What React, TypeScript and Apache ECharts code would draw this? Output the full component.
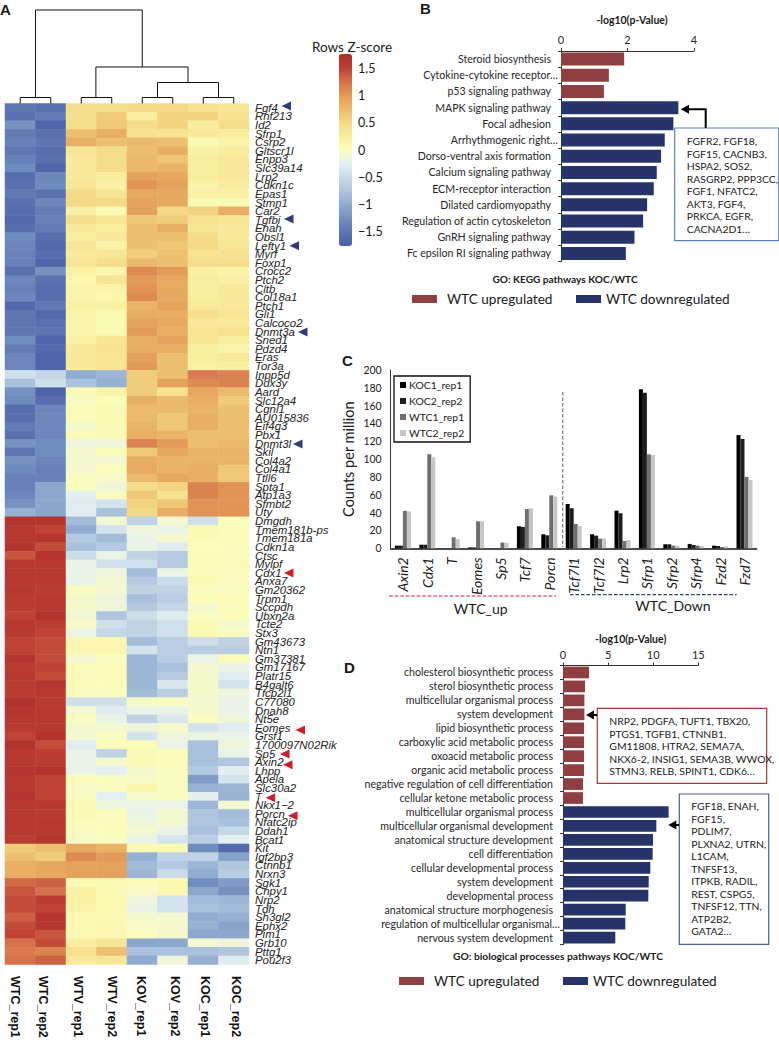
import React, { useEffect, useRef } from "react";
import * as echarts from "echarts";

const genes = ["Fgf4","Rnf213","Id2","Sfrp1","Csrp2","Gltscr1l","Enpp3","Slc39a14","Lrp2","Cdkn1c","Epas1","Stmn1","Car2","Tgfbi","Enah","Obsl1","Lefty1","Myrf","Foxp1","Crocc2","Ptch2","Cltb","Col18a1","Ptch1","Gli1","Calcoco2","Dnmt3a","Sned1","Pdzd4","Eras","Tor3a","Inpp5d","Ddx3y","Aard","Slc12a4","Cgnl1","AU015836","Eif4g3","Pbx1","Dnmt3l","Skil","Col4a2","Col4a1","Ttll6","Spta1","Atp1a3","Sfmbt2","Uty","Dmgdh","Tmem181b-ps","Tmem181a","Cdkn1a","Ctsc","Mylpf","Cdx1","Anxa7","Gm20362","Trpm1","Sccpdh","Ubxn2a","Tcte2","Stx3","Gm43673","Ntn1","Gm37381","Gm17167","Platr15","B4galt6","Tfcp2l1","C77080","Dnah8","Nt5e","Eomes","Grsf1","1700097N02Rik","Sp5","Axin2","Lhpp","Apela","Slc30a2","T","Nkx1−2","Porcn","Nfatc2ip","Ddah1","Bcat1","Kit","Igf2bp3","Ctnnb1","Nrxn3","Sgk1","Cnpy1","Nrp2","Tdh","Sh3gl2","Ephx2","Pim1","Grb10","Pttg1","Pou2f3"];

const samples = ["WTC_rep1","WTC_rep2","WTV_rep1","WTV_rep2","KOV_rep1","KOV_rep2","KOC_rep1","KOC_rep2"];

const zScores = [
[-1.5,-1.55,.45,.45,.5,.5,.4,.35],
[-1.55,-1.45,.45,.6,.25,.55,.55,.4],
[-1.25,-1.7,.45,.65,.45,.55,.25,.45],
[-1.45,-1.55,.7,.85,.4,.4,.3,.25],
[-1.4,-1.5,.85,.7,.75,.7,.05,.15],
[-1.5,-1.6,.35,.45,.7,.85,.2,.25],
[-1.4,-1.55,.3,.45,.75,.65,.25,.3],
[-1.3,-1.7,.3,.45,.75,.8,.25,.3],
[-1.6,-1.35,.3,.25,.95,.9,.25,.3],
[-1.55,-1.3,.35,.2,1.05,.95,.15,.25],
[-1.45,-1.55,.5,.35,.9,.9,.2,.2],
[-1.55,-1.35,.5,.5,.95,.9,.05,.05],
[-1.6,-1.45,.2,.05,.95,.5,.55,.85],
[-1.65,-1.4,.45,.35,.65,.6,.4,.35],
[-1.6,-1.45,.3,.25,.7,.85,.35,.3],
[-1.3,-1.6,.25,.3,.7,.7,.45,.3],
[-1.35,-1.65,.35,.15,.7,.65,.5,.35],
[-1.4,-1.6,.3,.35,.6,.7,.4,.4],
[-1.4,-1.7,.35,.45,.75,.7,.45,.45],
[-1.55,-1.25,.2,.1,1.1,1,.2,.15],
[-1.35,-1.55,.1,.35,1,.9,.25,.2],
[-1.4,-1.6,.15,.15,1.05,.9,.25,.3],
[-1.35,-1.6,.15,.1,1.1,.9,.25,.3],
[-1.65,-1.45,.2,.2,.8,.95,.3,.3],
[-1.5,-1.65,.15,.05,.85,.85,.45,.35],
[-1.5,-1.55,.15,.05,.95,.9,.3,.3],
[-1.5,-1.5,.15,.05,1,.85,.35,.4],
[-1.3,-1.7,.2,.35,.85,.95,.35,.25],
[-1.45,-1.65,.3,.4,.85,.85,.25,.15],
[-1.35,-1.7,.3,.35,.95,.7,.25,.3],
[-1.35,-1.7,.3,.35,1,.7,.2,.2],
[-.45,-.55,-1,-.9,.6,.7,1.2,1.15],
[-.8,-.45,-.8,-.95,.6,.95,1.1,1.15],
[-1.25,-1.7,.05,.15,.6,.4,.9,.75],
[-1.3,-1.6,-.05,.02,.85,.75,.85,.6],
[-1.6,-1.35,.02,.05,.75,.75,.8,.7],
[-1.6,-1.35,.02,.05,.75,.65,.85,.7],
[-1.45,-1.35,-.08,.05,.8,.65,.85,.7],
[-1.55,-1.35,.02,.05,.85,.8,.7,.7],
[-1.25,-1.3,-.15,-.15,1.15,1,.7,.75],
[-1.5,-1.3,-.1,.02,.65,.9,.8,.8],
[-1.25,-1.35,-.1,-.1,.85,.8,.8,.8],
[-1.3,-1.4,-.1,0,.9,.8,.85,.65],
[-1.4,-1.4,-.02,-.05,.75,.9,.85,.65],
[-1.4,-1.05,-.02,-.15,.45,.55,1.15,1.05],
[-1.35,-1.05,-.25,-.02,.65,.4,1.15,1.05],
[-1.25,-1.05,-.3,-.4,.55,.65,1.05,1.05],
[-.95,-1.05,-.3,-.8,.5,.85,1.05,1.05],
[1.65,1.65,-.85,-.1,-.6,-.1,-.45,0],
[1.6,1.5,-1,-.4,-.15,-.2,.05,.03],
[1.6,1.65,-.7,-.85,-.2,-.1,.05,.03],
[1.65,1.45,-.8,-.7,-.2,-.3,0,.02],
[1.4,1.65,-.5,-.2,-.6,-.7,.02,.03],
[1.6,1.6,-.2,-.45,-.45,-.7,.03,.03],
[1.6,1.6,-.2,-.15,-.85,-.2,.03,.03],
[1.6,1.6,-.2,-.1,-.7,-.5,.05,-.02],
[1.6,1.55,-.03,-.1,-.6,-.6,-.02,-.02],
[1.55,1.6,-.08,-.15,-.8,-.65,.03,.02],
[1.55,1.6,-.08,-.15,-.7,-.55,-.08,.02],
[1.5,1.7,-.12,-.75,-.45,-.3,-.03,.02],
[1.6,1.55,-.05,-.45,-.6,-.45,.05,-.08],
[1.6,1.5,-.2,-.55,-.6,-.45,.05,-.03],
[1.5,1.45,.1,.1,-.85,-.65,-.45,-.6],
[1.5,1.45,.1,.12,-.4,-.65,-.65,-.65],
[1.65,1.45,-.1,-.02,-.9,-.65,-.2,.03],
[1.55,1.5,.03,.03,-.9,-.8,-.1,-.2],
[1.6,1.45,.03,.03,-.9,-.7,-.08,-.3],
[1.55,1.65,.03,.02,-.9,-.35,-.08,-.4],
[1.55,1.6,-.02,-.02,-.85,-.65,-.08,-.15],
[1.7,1.55,-.45,-.45,-.05,-.02,-.1,-.2],
[1.65,1.6,-.1,-.3,-.2,-.2,-.08,-.2],
[1.6,1.6,-.02,-.2,-.6,-.35,-.02,-.15],
[1.6,1.6,-.1,-.1,-.15,-.08,-.4,-.3],
[1.5,1.7,-.1,-.02,-.4,-.15,-.2,-.2],
[1.7,1.45,-.3,.02,.03,-.2,-.8,-.15],
[1.6,1.55,-.2,-.6,.05,.03,-.8,-.2],
[1.6,1.55,-.2,-.08,.05,.03,-.8,-.75],
[1.65,1.7,-.2,-.25,-.08,-.02,-.7,-.25],
[1.6,1.5,.03,-.02,-.05,-.02,-1.15,-.4],
[1.6,1.5,-.05,-.02,.12,-.03,-.95,-.9],
[1.65,1.5,-.02,-.25,-.06,-.03,-.25,-.95],
[1.6,1.6,.05,-.15,-.2,-.2,-.9,-.1],
[1.6,1.55,.05,.03,-.2,-.1,-.75,-.85],
[1.6,1.6,.01,.03,-.15,-.1,-.75,-.8],
[1.6,1.6,-.02,.02,-.1,-.2,-.8,-.55],
[1.55,1.65,-.05,-.02,-.2,-.4,-.65,-.25],
[.6,.7,.9,.8,.05,.05,-1.3,-1.65],
[.7,.6,1.1,1,-.95,-.6,-.6,-1.1],
[.85,.9,.95,.95,-.85,-.7,-.9,-.75],
[.85,.9,.95,.95,-.9,-.5,-1,-.65],
[1.3,1.35,.05,.05,.02,.08,-1.3,-1.15],
[1.4,1.25,.2,.05,-.05,.1,-1.05,-1.25],
[1.45,1.55,.2,.08,-.15,-.4,-.85,-.9],
[1.45,1.5,.15,.08,-.2,-.4,-.8,-.85],
[1.35,1.65,.07,.08,-.08,-.1,-1,-.95],
[1.45,1.65,.07,.1,-.05,-.08,-.95,-1.1],
[1.5,1.4,.07,.1,-.01,-.08,-1.05,-1.05],
[1.25,1.45,.25,.35,-1.05,-1.05,-.1,-.15],
[1.2,1.15,.4,.7,-.8,-.8,-.8,-.75],
[1.25,1.35,.3,.35,-1,-.15,-.95,-.3],
];

// [left column centre, right column centre, left child height, right child height, merge height]
const dendroMerges = [
  [0.5, 1.5, 0, 0, 6],
  [2.5, 3.5, 0, 0, 6],
  [4.5, 5.5, 0, 0, 6],
  [6.5, 7.5, 0, 0, 6],
  [5, 7, 6, 6, 21],
  [2.98, 6, 6, 21, 36.5],
  [1, 4.5, 6, 36.5, 93.5],
];

const zScaleTicks = [-1.5, -1, -0.5, 0, 0.5, 1, 1.5];
const zScaleColors = ["#4a5fa8", "#5a75b1", "#7390c0", "#8fabd0", "#aec5de", "#c9dbe9", "#e4f0f1", "#fcfdbb", "#f9ee9f", "#f4d985", "#ebb96a", "#e39a58", "#d5704a", "#bd3f33", "#ae2e29"];

const keggPathways = ["Steroid biosynthesis","Cytokine-cytokine receptor…","p53 signaling pathway","MAPK signaling pathway","Focal adhesion","Arrhythmogenic right…","Dorso-ventral axis formation","Calcium signaling pathway","ECM-receptor interaction","Dilated cardiomyopathy","Regulation of actin cytoskeleton","GnRH signaling pathway","Fc epsilon RI signaling pathway"];
const keggUp = [1.9, 1.44, 1.29, null, null, null, null, null, null, null, null, null, null];
const keggDown = [null, null, null, 3.53, 3.38, 3.12, 3.01, 2.88, 2.79, 2.59, 2.47, 2.21, 1.95];

const wntGenes = ["Axin2","Cdx1","T","Eomes","Sp5","Tcf7","Porcn","Tcf7l1","Tcf7l2","Lrp2","Sfrp1","Sfrp2","Sfrp4","Fzd2","Fzd7"];
const koc1 = [3, 4, 0, 1, 0, 24.7, 15.7, 49.7, 15.7, 42.2, 178.3, 4.5, 4.9, 3, 127];
const koc2 = [3, 4, 0, 1, 0, 24, 14.6, 45, 14.2, 39.3, 174.6, 4.5, 3.7, 2.6, 122.6];
const wtc1 = [42, 105.5, 12.3, 30.3, 6.4, 44, 59.4, 27.3, 10.8, 8.2, 105.4, 3, 3, 1.5, 80];
const wtc2 = [41.5, 102, 10.5, 30.3, 6, 45, 58, 25, 11.2, 9.3, 104.7, 3, 2.6, 2.2, 76.6];

const bioProcesses = ["cholesterol biosynthetic process","sterol biosynthetic process","multicellular organismal process","system development","lipid biosynthetic process","carboxylic acid metabolic process","oxoacid metabolic process","organic acid metabolic process","negative regulation of cell differentiation","cellular ketone metabolic process","multicellular organismal process","multicellular organismal development","anatomical structure development","cell differentiation","cellular developmental process","system development","developmental process","anatomical structure morphogenesis","regulation of multicellular organismal…","nervous system development"];
const bioUp = [2.88, 2.44, 2.37, 2.37, 2.33, 2.33, 2.33, 2.33, 2.22, 2.22, null, null, null, null, null, null, null, null, null, null];
const bioDown = [null, null, null, null, null, null, null, null, null, null, 11.71, 10.35, 9.98, 9.94, 9.68, 9.5, 9.46, 6.95, 6.91, 5.8];

const keggGeneLines = ["FGFR2, FGF18,","FGF15, CACNB3,","HSPA2, SOS2,","RASGRP2, PPP3CC,","FGF1, NFATC2,","AKT3, FGF4,","PRKCA, EGFR,","CACNA2D1…"];
const bioUpLines = ["NRP2, PDGFA, TUFT1, TBX20,","PTGS1, TGFB1, CTNNB1,","GM11808, HTRA2, SEMA7A,","NKX6-2, INSIG1, SEMA3B, WWOX,","STMN3, RELB, SPINT1, CDK6…"];
const bioDownLines = ["FGF18, ENAH,","FGF15,","PDLIM7,","PLXNA2, UTRN,","L1CAM,","TNFSF13,","ITPKB, RADIL,","REST, CSPG5,","TNFSF12, TTN,","ATP2B2,","GATA2…"];

const sampleLabelX = [15, 43, 78, 112, 141, 175, 205, 236];
const blueMarks = [[281.5, 106], [284, 219], [289.5, 245.7], [298, 332], [293, 444]];
const redMarks = [[284, 573], [295.5, 730], [280, 754], [283, 764.7], [265.7, 797.7], [288, 815.7]];

const UP = "#8f3f3f";
const DOWN = "#26346a";
const SANS = "Lato";
const NAME_UP = "WTC upregulated";
const NAME_DOWN = "WTC downregulated";
const LABEL_SIZE = 10.6;

function txt(x: number, y: number, text: string, fontSize: number, extra: any = {}) {
  return {
    type: "text",
    x,
    y,
    silent: true,
    z: 20,
    style: { text, fontSize, fontFamily: SANS, fill: "#1a1a1a", textAlign: "left", textVerticalAlign: "middle", ...extra },
  };
}

function lines(x: number, y0: number, arr: string[]) {
  return arr.map((t, i) => txt(x, y0 + i * 12.5, t, 10.4));
}

function box(x: number, y: number, w: number, h: number, stroke: string) {
  return { type: "rect", z: 15, silent: true, shape: { x, y, width: w, height: h }, style: { fill: "#fff", stroke, lineWidth: 1.2 } };
}

function triangle(x: number, y: number, fill: string) {
  return {
    type: "polygon",
    silent: true,
    z: 20,
    shape: { points: [[x, y], [x + 9.5, y - 4.5], [x + 9.5, y + 4.5]] },
    style: { fill },
  };
}

function arrowLeft(tip: number, y: number, end: number) {
  return [
    { type: "polygon", silent: true, z: 20, shape: { points: [[tip, y], [tip + 8, y - 4.5], [tip + 8, y + 4.5]] }, style: { fill: "#000" } },
    { type: "line", silent: true, z: 20, shape: { x1: tip + 7, y1: y, x2: end, y2: y }, style: { stroke: "#000", lineWidth: 2 } },
  ];
}

function barLabels(list: string[]) {
  return {
    interval: 0,
    margin: 3,
    fontFamily: SANS,
    fontSize: LABEL_SIZE,
    color: "#262626",
    formatter: (v: string) => (v.endsWith("…") ? `{e|${v}}` : `{n|${v}}`),
    rich: {
      e: { fontFamily: SANS, fontSize: LABEL_SIZE, color: "#262626" },
      n: { fontFamily: SANS, fontSize: LABEL_SIZE, color: "#262626", padding: [0, 7, 0, 0] },
    },
  };
}

function barAxisPair(grid: number, list: string[], max: number, interval: number, nameGap: number, namePad: number) {
  return {
    x: {
      type: "value",
      gridIndex: grid,
      position: "top",
      min: 0,
      max,
      interval,
      name: "-log10(p-Value)",
      nameLocation: "middle",
      nameGap,
      nameTextStyle: { fontFamily: SANS, fontSize: 10.5, fontWeight: "bold", color: "#1a1a1a", padding: [0, 0, 0, namePad] },
      splitLine: { show: false },
      axisLine: { show: true, lineStyle: { color: "#333" } },
      axisTick: { show: true, length: 3, lineStyle: { color: "#333" } },
      axisLabel: { fontFamily: SANS, fontSize: 11, color: "#262626", margin: 6 },
    },
    y: {
      type: "category",
      gridIndex: grid,
      inverse: true,
      data: list,
      axisLine: { show: true, lineStyle: { color: "#333" } },
      axisTick: { show: true, length: 3, lineStyle: { color: "#333" } },
      axisLabel: barLabels(list),
    },
  };
}

function barPair(grid: number, up: any[], down: any[], barWidth: number) {
  return [
    { type: "bar", name: NAME_UP, xAxisIndex: grid, yAxisIndex: grid, data: up, stack: "p" + grid, barWidth, itemStyle: { color: UP } },
    { type: "bar", name: NAME_DOWN, xAxisIndex: grid, yAxisIndex: grid, data: down, stack: "p" + grid, barWidth, itemStyle: { color: DOWN } },
  ];
}

function singleLegend(name: string, left: number, top: number, gap: number) {
  return {
    data: [name],
    left,
    top,
    padding: 0,
    itemWidth: 25,
    itemHeight: 8,
    selectedMode: false,
    icon: "rect",
    textStyle: { fontFamily: SANS, fontSize: 13.6, color: "#1a1a1a", padding: [0, 0, 0, gap] },
  };
}

export default function App() {
  const ref = useRef<HTMLDivElement>(null);
  useEffect(() => {
    const chart = echarts.init(ref.current!, undefined, { renderer: "svg" });
    const cells: number[][] = [];
    zScores.forEach((row, r) => row.forEach((v, c) => cells.push([c, r, v])));

    const b = barAxisPair(1, keggPathways, 4, 2, 26, 9);
    const d = barAxisPair(2, bioProcesses, 15, 5, 21, 0);

    const catAxisHidden = { axisLine: { show: false }, axisTick: { show: false }, axisLabel: { show: false }, splitLine: { show: false }, splitArea: { show: false } };

    const option: any = {
      animation: false,
      backgroundColor: "#fff",
      grid: [
        { left: 5, top: 103.5, width: 244, height: 861 },
        { left: 561, top: 51, width: 133, height: 210.5 },
        { left: 563, top: 665.5, width: 135.3, height: 279 },
        { left: 390.7, top: 370, width: 366, height: 178.3 },
        { left: 5, top: 9.5, width: 244, height: 94 },
        { left: 339, top: 54, width: 13, height: 192 },
      ],
      xAxis: [
        { type: "category", gridIndex: 0, data: samples, ...catAxisHidden },
        b.x,
        d.x,
        {
          type: "category",
          gridIndex: 3,
          data: wntGenes,
          axisLine: { show: true, lineStyle: { color: "#111", width: 1.5 } },
          axisTick: { show: false },
          axisLabel: { interval: 0, rotate: 90, fontFamily: SANS, fontStyle: "italic", fontSize: 14, color: "#1a1a1a", margin: 9 },
        },
        { type: "value", gridIndex: 4, min: 0, max: 8, show: false },
        { type: "value", gridIndex: 5, min: 0, max: 1, show: false },
      ],
      yAxis: [
        {
          type: "category",
          gridIndex: 0,
          inverse: true,
          position: "right",
          data: genes,
          axisLine: { show: false },
          axisTick: { show: false },
          splitArea: { show: false },
          axisLabel: { interval: 0, fontFamily: "Liberation Sans", fontStyle: "italic", fontSize: 11.4, color: "#222", margin: 6, hideOverlap: false },
        },
        b.y,
        d.y,
        {
          type: "value",
          gridIndex: 3,
          min: 0,
          max: 200,
          interval: 20,
          name: "Counts per million",
          nameLocation: "middle",
          nameGap: 35,
          nameTextStyle: { fontFamily: SANS, fontSize: 14.5, color: "#1a1a1a" },
          splitLine: { show: false },
          axisLine: { show: true, lineStyle: { color: "#333" } },
          axisTick: { show: false },
          axisLabel: { fontFamily: SANS, fontSize: 10.5, color: "#1a1a1a", margin: 9 },
        },
        { type: "value", gridIndex: 4, min: 0, max: 94, show: false },
        {
          type: "value",
          gridIndex: 5,
          position: "right",
          min: -1.77,
          max: 1.77,
          splitLine: { show: false },
          axisLine: { show: false },
          axisTick: { show: false },
          axisLabel: {
            customValues: zScaleTicks,
            fontFamily: SANS,
            fontSize: 12.5,
            color: "#1a1a1a",
            margin: 6,
            formatter: (v: number) => String(v).replace("-", "−"),
          },
        },
      ],
      visualMap: {
        type: "continuous",
        seriesIndex: 0,
        min: -1.77,
        max: 1.77,
        left: 339,
        top: 54,
        itemWidth: 13,
        itemHeight: 192,
        padding: 0,
        calculable: false,
        hoverLink: false,
        showLabel: false,
        inRange: { color: zScaleColors },
      },
      legend: [
        singleLegend(NAME_UP, 412, 292, 5),
        singleLegend(NAME_DOWN, 576, 292, 0),
        singleLegend(NAME_UP, 399, 974, 5),
        singleLegend(NAME_DOWN, 563, 974, 0),
        {
          data: ["KOC1_rep1", "KOC2_rep2", "WTC1_rep1", "WTC2_rep2"],
          orient: "vertical",
          left: 394,
          top: 376,
          width: 75,
          padding: [4, 6, 4, 6],
          itemWidth: 6,
          itemHeight: 6,
          itemGap: 6,
          icon: "rect",
          selectedMode: false,
          borderColor: "#111",
          borderWidth: 1.3,
          backgroundColor: "#fff",
          textStyle: { fontFamily: SANS, fontSize: 10.4, color: "#1a1a1a", padding: [0, 0, 0, -2] },
        },
      ],
      series: [
        {
          type: "heatmap",
          xAxisIndex: 0,
          yAxisIndex: 0,
          data: cells,
          itemStyle: { borderWidth: 0 },
          emphasis: { disabled: true },
          progressive: 0,
        },
        ...barPair(1, keggUp, keggDown, 13),
        ...barPair(2, bioUp, bioDown, 11.7),
        { type: "bar", name: "KOC1_rep1", xAxisIndex: 3, yAxisIndex: 3, data: koc1, barWidth: 4, barGap: 0, itemStyle: { color: "#000" } },
        { type: "bar", name: "KOC2_rep2", xAxisIndex: 3, yAxisIndex: 3, data: koc2, barWidth: 4, barGap: 0, itemStyle: { color: "#1e1e1e" } },
        { type: "bar", name: "WTC1_rep1", xAxisIndex: 3, yAxisIndex: 3, data: wtc1, barWidth: 4, barGap: 0, itemStyle: { color: "#6e6e6e" } },
        { type: "bar", name: "WTC2_rep2", xAxisIndex: 3, yAxisIndex: 3, data: wtc2, barWidth: 4, barGap: 0, itemStyle: { color: "#c6c6c6" } },
        {
          type: "custom",
          xAxisIndex: 4,
          yAxisIndex: 4,
          data: dendroMerges,
          encode: { x: [0, 1], y: [2, 3, 4] },
          renderItem: (_: any, api: any) => {
            const [x1, x2, h1, h2, h] = [api.value(0), api.value(1), api.value(2), api.value(3), api.value(4)];
            return {
              type: "polyline",
              shape: { points: [api.coord([x1, h1]), api.coord([x1, h]), api.coord([x2, h]), api.coord([x2, h2])] },
              style: { stroke: "#111", lineWidth: 1, fill: "none" },
            };
          },
        },
      ],
      graphic: {
        elements: [
          txt(0, 9, "A", 15, { fontWeight: "bold", fontFamily: "Liberation Sans" }),
          txt(420, 8.5, "B", 15, { fontWeight: "bold", fontFamily: "Liberation Sans" }),
          txt(342, 360, "C", 15, { fontWeight: "bold", fontFamily: "Liberation Sans" }),
          txt(344, 667, "D", 15, { fontWeight: "bold", fontFamily: "Liberation Sans" }),
          txt(312, 47, "Rows Z-score", 13.5),
          ...samples.map((s, i) =>
            ({ ...txt(sampleLabelX[i], 976, s, 12.5, { fontWeight: "bold", fontFamily: "Liberation Sans", fill: "#111" }), rotation: -Math.PI / 2 })
          ),
          ...blueMarks.map(([x, y]) => triangle(x, y, "#2a3c7c")),
          ...redMarks.map(([x, y]) => triangle(x, y, "#cc1f2a")),
          txt(565, 279, "GO: KEGG pathways KOC/WTC", 10.15, { fontWeight: "bold", textAlign: "center" }),
          { type: "polyline", silent: true, z: 20, shape: { points: [[705.7, 128], [705.7, 109.3], [688, 109.3]] }, style: { stroke: "#000", lineWidth: 2, fill: "none" } },
          { type: "polygon", silent: true, z: 20, shape: { points: [[680.7, 109.3], [689, 104.8], [689, 113.8]] }, style: { fill: "#000" } },
          box(674.7, 128, 104, 112.7, "#5f7fc2"),
          ...lines(686.7, 141, keggGeneLines),
          { type: "line", silent: true, z: 10, shape: { x1: 562.7, y1: 392, x2: 562.7, y2: 547 }, style: { stroke: "#777", lineWidth: 1.2, lineDash: [3.5, 2] } },
          { type: "line", silent: true, z: 10, shape: { x1: 389.3, y1: 596, x2: 556, y2: 596 }, style: { stroke: "#e01f26", lineWidth: 1.2, lineDash: [3.5, 2] } },
          { type: "line", silent: true, z: 10, shape: { x1: 570, y1: 594.7, x2: 736.7, y2: 594.7 }, style: { stroke: "#2a3c7c", lineWidth: 1.2, lineDash: [3.5, 2] } },
          txt(480.7, 608.7, "WTC_up", 14, { textAlign: "center" }),
          txt(673, 605, "WTC_Down", 14, { textAlign: "center" }),
          txt(558, 956, "GO: biological processes pathways KOC/WTC", 10.25, { fontWeight: "bold", textAlign: "center" }),
          ...arrowLeft(586, 715, 597),
          ...arrowLeft(668.3, 825, 679),
          box(597.3, 708.3, 169.4, 75, "#a03a3a"),
          ...lines(609.3, 721, bioUpLines),
          box(679.3, 794, 89.4, 150.3, "#4a5f9f"),
          ...lines(691.3, 806, bioDownLines),
        ],
      },
    };
    chart.setOption(option);
    return () => chart.dispose();
  }, []);
  return <div ref={ref} style={{ position: "fixed", left: 0, top: 0, width: 779, height: 1040 }} />;
}
